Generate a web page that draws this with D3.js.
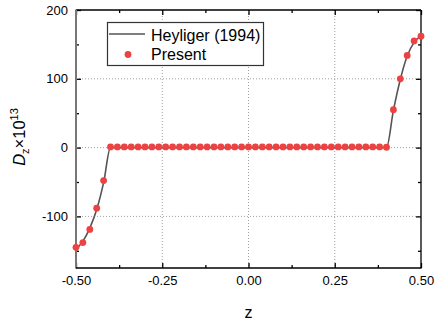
<!DOCTYPE html>
<html><head><meta charset="utf-8">
<script src="https://cdn.jsdelivr.net/npm/d3@7"></script>
<style>body{margin:0;background:#fff}svg{display:block;font-family:"Liberation Sans",Arial,sans-serif}</style>
</head><body><svg id="c" width="438" height="324"></svg>
<script>
const presentZ = [-0.50,-0.48,-0.46,-0.44,-0.42,-0.40,-0.38,-0.36,-0.34,-0.32,-0.30,-0.28,-0.26,-0.24,-0.22,-0.20,-0.18,-0.16,-0.14,-0.12,-0.10,-0.08,-0.06,-0.04,-0.02,0.00,0.02,0.04,0.06,0.08,0.10,0.12,0.14,0.16,0.18,0.20,0.22,0.24,0.26,0.28,0.30,0.32,0.34,0.36,0.38,0.40,0.42,0.44,0.46,0.48,0.50];
const presentD = [-145,-138,-119,-88,-48,1,1,1,1,1,1,1,1,1,1,1,1,1,1,1,1,1,1,1,1,1,1,1,1,1,1,1,1,1,1,1,1,1,1,1,1,1,1,1,1,0.5,55,100,134,155,162];
const heyZ = [-0.50,-0.48,-0.46,-0.44,-0.42,-0.40,0.40,0.42,0.44,0.46,0.48,0.50];
const heyD = [-148,-136,-117,-90,-51,0,0,54,99,133,153,162];
const xTicks = [-0.5,-0.25,0,0.25,0.5];
const xMinor = [-0.375,-0.125,0.125,0.375];
const yTicks = [-100,0,100,200];
const yMinor = [-150,-50,50,150];
const legendLabels = ["Heyliger (1994)","Present"];

const svg = d3.select("#c");
const L=76,R=421,T=10,B=268;
const x = d3.scaleLinear().domain([-0.5,0.5]).range([L,R]);
const y = d3.scaleLinear().domain([-175,200]).range([B,T]);

// grid
const g = svg.append("g");
g.selectAll(".gx").data([-0.25,0,0.25]).join("line")
  .attr("x1",d=>x(d)).attr("x2",d=>x(d)).attr("y1",T).attr("y2",B)
  .attr("stroke","#a0a0a0").attr("stroke-width",1).attr("stroke-dasharray","1,2");
g.selectAll(".gy").data([-100,0,100]).join("line")
  .attr("x1",L).attr("x2",R).attr("y1",d=>y(d)).attr("y2",d=>y(d))
  .attr("stroke","#a0a0a0").attr("stroke-width",1).attr("stroke-dasharray","1,2");

// axes
const fmtX = d=>d3.format(".2f")(d).replace("\u2212","-");
const fmtY = d=>String(d);
const axB = svg.append("g").attr("transform",`translate(0,${B})`)
  .call(d3.axisBottom(x).tickValues(xTicks).tickFormat(fmtX).tickSizeInner(-5).tickSizeOuter(0).tickPadding(8));
const axBm = svg.append("g").attr("transform",`translate(0,${B})`)
  .call(d3.axisBottom(x).tickValues(xMinor).tickFormat("").tickSizeInner(-3).tickSizeOuter(0));
const axT = svg.append("g").attr("transform",`translate(0,${T})`)
  .call(d3.axisTop(x).tickValues(xTicks).tickFormat("").tickSizeInner(-5).tickSizeOuter(0));
const axTm = svg.append("g").attr("transform",`translate(0,${T})`)
  .call(d3.axisTop(x).tickValues(xMinor).tickFormat("").tickSizeInner(-3).tickSizeOuter(0));
const axL = svg.append("g").attr("transform",`translate(${L},0)`)
  .call(d3.axisLeft(y).tickValues(yTicks).tickFormat(fmtY).tickSizeInner(-5).tickSizeOuter(0).tickPadding(8));
const axLm = svg.append("g").attr("transform",`translate(${L},0)`)
  .call(d3.axisLeft(y).tickValues(yMinor).tickFormat("").tickSizeInner(-3).tickSizeOuter(0));
const axR = svg.append("g").attr("transform",`translate(${R},0)`)
  .call(d3.axisRight(y).tickValues(yTicks).tickFormat("").tickSizeInner(-5).tickSizeOuter(0));
const axRm = svg.append("g").attr("transform",`translate(${R},0)`)
  .call(d3.axisRight(y).tickValues(yMinor).tickFormat("").tickSizeInner(-3).tickSizeOuter(0));
[axB,axBm,axT,axTm,axL,axLm,axR,axRm].forEach(a=>{
  a.selectAll(".domain").remove();
  a.selectAll(".tick line").attr("stroke","#000").attr("stroke-width",1.3);
  a.selectAll("text").attr("font-size",13).attr("fill","#000").attr("font-family","Liberation Sans, Arial, sans-serif");
});
// frame
svg.append("line").attr("x1",L).attr("x2",R).attr("y1",T).attr("y2",T).attr("stroke","#000").attr("stroke-width",1.3);
svg.append("line").attr("x1",R).attr("x2",R).attr("y1",T).attr("y2",B).attr("stroke","#000").attr("stroke-width",1.3);
svg.append("line").attr("x1",L).attr("x2",L).attr("y1",T-0.6).attr("y2",B+0.6).attr("stroke","#777").attr("stroke-width",2);
svg.append("line").attr("x1",L).attr("x2",R+0.6).attr("y1",B).attr("y2",B).attr("stroke","#000").attr("stroke-width",1.6);

// line
const line = d3.line().x(d=>x(d[0])).y(d=>y(d[1])).curve(d3.curveMonotoneX);
svg.append("path").datum(heyZ.map((z,i)=>[z,heyD[i]]))
  .attr("d",line).attr("fill","none").attr("stroke","#555").attr("stroke-width",1.6);

// points
svg.append("g").selectAll("circle").data(presentZ.map((z,i)=>[z,presentD[i]])).join("circle")
  .attr("cx",d=>x(d[0])).attr("cy",d=>y(d[1])).attr("r",3.4).attr("fill","#ec4242");

// legend
const lg = svg.append("g");
lg.append("rect").attr("x",107.5).attr("y",22.5).attr("width",156).attr("height",43)
  .attr("fill","#fff").attr("stroke","#333").attr("stroke-width",1.2);
lg.append("line").attr("x1",109).attr("x2",145).attr("y1",34).attr("y2",34).attr("stroke","#555").attr("stroke-width",1.6);
lg.append("circle").attr("cx",128).attr("cy",54.5).attr("r",3.4).attr("fill","#ec4242");
lg.selectAll("text").data(legendLabels).join("text")
  .attr("x",151).attr("y",(d,i)=>40.5+i*19.5).text(d=>d)
  .attr("font-size",16).attr("fill","#000");

// axis titles
svg.append("text").attr("x",x(0)).attr("y",318).attr("text-anchor","middle")
  .attr("font-size",16).text("z");
const yl = svg.append("text").attr("transform","translate(25,137) rotate(-90)").attr("text-anchor","middle").attr("font-size",16.5);
yl.append("tspan").attr("font-style","italic").text("D");
yl.append("tspan").attr("font-size",11).attr("dy",4).text("z");
yl.append("tspan").attr("dy",-4).text("×10");
yl.append("tspan").attr("font-size",11).attr("dy",-7).text("13");
</script></body></html>
